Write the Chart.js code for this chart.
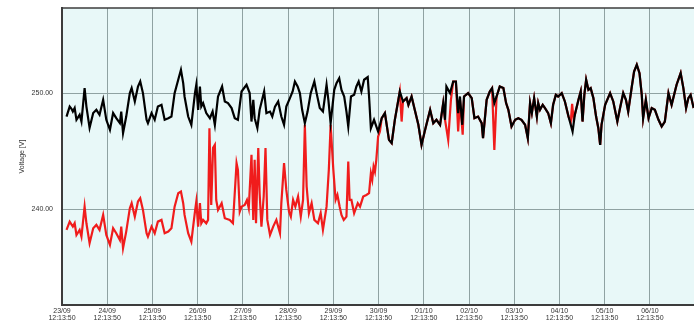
<!DOCTYPE html>
<html>
<head>
<meta charset="utf-8">
<title>Voltage</title>
<script src="https://cdn.jsdelivr.net/npm/chart.js@4/dist/chart.umd.min.js"></script>
<style>
  html, body { margin: 0; padding: 0; background: #ffffff; }
  #wrap { width: 694px; height: 329px; overflow: hidden; }
</style>
</head>
<body>
<div id="wrap"><canvas id="chart" width="694" height="329"></canvas></div>
<script>
// Day labels (one per grid line), each stamped at the same clock time
const dayLabels = ['23/09', '24/09', '25/09', '26/09', '27/09', '28/09', '29/09',
                   '30/09', '01/10', '02/10', '03/10', '04/10', '05/10', '06/10'];
const clockLabel = '12:13:50';
const voltTicks = [240, 250];

// Phase voltage readings: time in days since 23/09 12:13:50, value in volts
const timeBlack = [0.10,0.17,0.21,0.24,0.28,0.32,0.39,0.43,0.50,0.54,0.61,0.69,0.76,0.83,0.91,0.98,
  1.06,1.13,1.20,1.28,1.31,1.35,1.42,1.50,1.54,1.61,1.68,1.73,1.79,1.87,1.90,1.98,
  2.05,2.12,2.20,2.27,2.35,2.42,2.49,2.57,2.63,2.68,2.71,2.79,2.86,2.94,2.97,
  3.01,3.05,3.08,3.12,3.19,3.27,3.33,3.38,3.45,3.54,3.60,3.67,3.75,3.82,3.89,3.97,
  4.08,4.15,4.19,4.23,4.26,4.32,4.37,4.47,4.52,4.60,4.65,4.71,4.78,4.85,4.91,4.96,
  5.04,5.10,5.15,5.21,5.26,5.31,5.37,5.43,5.50,5.58,5.63,5.70,5.77,5.85,5.89,5.94,
  6.02,6.07,6.13,6.18,6.24,6.29,6.33,6.39,6.46,6.51,6.56,6.62,6.68,6.76,6.79,6.83,6.90,6.99,
  7.07,7.14,7.23,7.29,7.36,7.47,7.54,7.62,7.66,7.73,7.80,7.88,7.95,
  8.02,8.14,8.21,8.28,8.36,8.43,8.47,8.50,8.58,8.65,8.71,8.76,8.80,8.85,8.89,8.98,
  9.06,9.12,9.20,9.28,9.31,9.39,9.46,9.51,9.56,9.61,9.68,9.76,9.82,9.87,9.94,
  10.02,10.09,10.16,10.24,10.30,10.35,10.39,10.44,10.50,10.53,10.57,10.63,10.68,10.75,10.81,10.86,10.92,10.97,
  11.05,11.12,11.20,11.25,11.29,11.34,11.42,11.47,11.51,11.55,11.59,11.64,11.69,11.75,11.81,11.86,11.90,11.93,
  12.01,12.12,12.19,12.28,12.34,12.41,12.47,12.52,12.60,12.65,12.71,12.77,12.82,12.85,12.91,12.97,
  13.04,13.11,13.19,13.26,13.33,13.41,13.48,13.59,13.68,13.74,13.80,13.85,13.90,13.96,14.04];
const voltsBlack = [247.98,248.84,248.65,248.41,248.71,247.70,248.13,247.55,250.43,248.84,247.01,248.28,248.56,248.13,249.42,247.70,
  246.84,248.28,247.84,247.41,248.41,246.55,247.98,250.00,250.43,249.28,250.57,251.00,250.00,247.70,247.41,248.28,
  247.70,248.84,248.99,247.70,247.84,247.98,250.00,251.15,252.01,250.86,249.71,247.98,247.27,250.00,250.72,
  248.56,250.57,248.84,249.14,248.28,247.84,248.41,247.27,249.71,250.57,249.28,249.14,248.71,247.84,247.70,250.14,
  250.72,250.00,247.55,249.42,247.84,246.98,248.56,250.14,248.28,248.41,247.98,248.84,249.28,247.98,247.27,248.84,
  249.57,250.14,251.00,250.57,250.00,248.56,247.41,248.41,250.00,251.00,250.00,248.71,248.41,250.72,249.42,247.41,
  250.28,250.86,251.29,250.28,249.71,248.41,247.12,249.71,249.85,250.57,251.00,250.14,251.15,251.38,249.71,246.98,247.70,246.69,
  247.84,248.28,245.97,245.69,247.70,250.14,249.28,249.57,248.99,249.71,248.56,247.27,245.54,
  246.69,248.56,247.41,247.70,247.27,249.14,247.70,250.57,250.00,251.00,251.00,248.28,249.71,247.27,249.71,250.00,
  249.57,247.84,247.98,247.41,246.12,249.42,250.14,250.43,249.14,249.71,250.57,250.43,249.14,248.56,247.12,
  247.70,247.84,247.70,247.27,246.12,249.14,248.28,249.57,247.98,249.14,248.56,248.99,248.71,248.28,247.41,248.99,249.85,249.71,
  250.00,249.28,247.98,247.27,246.69,248.13,249.42,250.14,247.55,249.85,251.15,250.28,250.43,249.57,247.98,246.98,245.54,247.27,
  248.99,250.00,249.28,247.55,248.71,250.00,249.42,248.41,250.57,251.86,252.44,251.72,249.85,247.84,249.42,247.84,
  248.71,248.56,247.70,247.12,247.55,250.00,248.99,250.72,251.72,250.43,248.71,249.57,249.85,248.84,249.08];

const timeRed = [0.10,0.17,0.24,0.28,0.32,0.39,0.43,0.50,0.54,0.61,0.69,0.76,0.83,0.91,0.98,
  1.06,1.13,1.20,1.28,1.31,1.35,1.42,1.50,1.54,1.61,1.68,1.73,1.79,1.87,1.90,1.98,
  2.05,2.12,2.20,2.27,2.35,2.42,2.49,2.57,2.63,2.68,2.71,2.79,2.86,2.94,2.97,
  3.01,3.05,3.08,3.12,3.19,3.23,3.26,3.30,3.34,3.38,3.41,3.45,3.53,3.60,3.71,3.78,3.86,3.89,3.93,3.97,
  4.04,4.09,4.13,4.19,4.23,4.26,4.29,4.34,4.37,4.41,4.46,4.50,4.54,4.60,4.67,4.74,4.82,4.85,4.91,4.96,
  5.02,5.06,5.11,5.16,5.22,5.28,5.33,5.37,5.41,5.46,5.52,5.58,5.66,5.72,5.77,5.85,5.90,5.94,
  6.00,6.05,6.09,6.14,6.18,6.23,6.29,6.33,6.36,6.40,6.46,6.54,6.59,6.66,6.73,6.79,6.83,6.86,6.89,6.92,6.95,6.99,
  7.03,7.07,7.14,7.23,7.29,7.36,7.47,7.51,7.54,7.62,7.66,7.73,7.80,7.88,7.95,
  8.02,8.14,8.21,8.28,8.36,8.43,8.47,8.54,8.60,8.65,8.71,8.76,8.80,8.86,8.89,8.98,
  9.06,9.12,9.20,9.28,9.31,9.39,9.46,9.51,9.56,9.61,9.68,9.76,9.82,9.87,9.94,
  10.02,10.09,10.16,10.24,10.30,10.35,10.39,10.44,10.50,10.53,10.57,10.63,10.68,10.75,10.81,10.86,10.92,10.97,
  11.05,11.12,11.20,11.25,11.28,11.31,11.34,11.42,11.47,11.51,11.55,11.59,11.64,11.69,11.75,11.81,11.86,11.90,11.93,
  12.01,12.12,12.19,12.28,12.34,12.41,12.47,12.52,12.60,12.65,12.71,12.77,12.82,12.85,12.91,12.97,
  13.04,13.11,13.19,13.26,13.33,13.41,13.48,13.59,13.68,13.74,13.80,13.85,13.90,13.96,14.04];
const voltsRed = [238.22,238.93,238.50,238.79,237.78,238.22,237.64,240.22,238.79,237.07,238.36,238.65,238.22,239.51,237.78,
  236.92,238.36,237.93,237.35,238.50,236.64,238.07,240.09,240.52,239.36,240.66,240.95,239.94,237.93,237.64,238.50,
  237.93,238.93,239.08,237.93,238.07,238.36,240.22,241.38,241.52,240.52,239.51,237.93,237.21,239.79,240.66,
  238.50,240.52,238.79,239.08,238.79,239.08,246.98,240.37,245.28,245.54,240.80,239.94,240.52,239.22,239.08,238.79,243.97,243.39,239.79,240.22,
  240.37,240.80,240.09,244.68,239.08,244.25,238.79,245.26,241.38,238.50,241.09,245.26,239.08,237.78,238.50,239.08,237.93,240.52,243.97,241.66,
  239.79,239.36,240.80,240.22,241.09,239.36,240.80,247.27,241.95,239.66,240.52,239.08,238.79,239.66,238.22,240.22,243.39,247.27,
  243.39,240.80,241.23,240.22,239.51,239.08,239.36,244.10,240.80,240.80,239.66,240.52,240.22,241.09,241.23,241.38,243.10,242.53,243.67,243.24,244.25,246.26,
  246.69,247.84,248.28,245.97,245.69,247.70,250.14,247.55,249.28,249.57,248.99,249.71,248.56,247.27,245.54,
  246.69,248.56,247.41,247.70,247.27,249.14,247.70,245.97,249.42,251.00,251.00,246.69,249.42,246.41,249.71,250.00,
  249.57,247.84,247.98,247.41,246.12,249.42,250.14,250.43,245.11,249.71,250.57,250.43,249.14,248.56,247.12,
  247.70,247.84,247.70,247.27,246.12,249.14,248.28,249.57,247.98,249.14,248.56,248.99,248.71,248.28,247.41,248.99,249.85,249.71,
  250.00,249.28,247.98,247.53,249.08,247.87,248.13,249.42,250.14,247.55,249.85,251.15,250.28,250.43,249.57,247.98,246.98,245.54,247.27,
  248.99,250.00,249.28,247.55,248.71,250.00,249.42,248.41,250.57,251.86,252.44,251.72,249.85,247.84,249.42,247.84,
  248.71,248.56,247.70,247.12,247.55,250.00,248.99,250.72,251.72,250.43,248.71,249.57,249.85,248.84,249.08];

const toPoints = (t, v) => t.map((x, i) => ({ x: x, y: v[i] }));

// Pale plot background and the top edge of the frame
const plotFrame = {
  id: 'plotFrame',
  beforeDraw(chart) {
    const { ctx, chartArea: a } = chart;
    ctx.save();
    ctx.fillStyle = '#e8f8f8';
    ctx.fillRect(a.left, a.top, a.right - a.left, a.bottom - a.top);
    ctx.restore();
  },
  afterDraw(chart) {
    const { ctx, chartArea: a } = chart;
    ctx.save();
    ctx.strokeStyle = '#3c3c3c';
    ctx.lineWidth = 1.5;
    ctx.beginPath();
    ctx.moveTo(a.left, a.top);
    ctx.lineTo(a.right, a.top);
    ctx.stroke();
    ctx.restore();
  }
};

const tickFont = { family: 'Liberation Sans, Arial, sans-serif', size: 7, lineHeight: 1 };

new Chart(document.getElementById('chart'), {
  type: 'line',
  data: {
    datasets: [
      {
        label: 'L1',
        data: toPoints(timeBlack, voltsBlack),
        borderColor: '#000000',
        borderWidth: 2.2,
        pointRadius: 0,
        tension: 0,
        order: 0
      },
      {
        label: 'L2',
        data: toPoints(timeRed, voltsRed),
        borderColor: '#f01c1c',
        borderWidth: 2.2,
        pointRadius: 0,
        tension: 0,
        order: 1
      }
    ]
  },
  options: {
    responsive: false,
    animation: false,
    events: [],
    layout: { padding: { top: 8, right: 0, bottom: 0, left: 0 } },
    plugins: { legend: { display: false }, tooltip: { enabled: false } },
    scales: {
      x: {
        type: 'linear',
        min: 0,
        max: 13.975,
        afterBuildTicks: s => { s.ticks = dayLabels.map((_, i) => ({ value: i })); },
        afterFit: s => { s.height = 24; s.paddingLeft = 0; s.paddingRight = 0; },
        grid: { color: '#8fa2a2', lineWidth: 1, drawTicks: false },
        border: { color: '#3c3c3c', width: 2 },
        ticks: {
          padding: 3,
          maxRotation: 0,
          autoSkip: false,
          color: '#333333',
          font: tickFont,
          callback: v => [dayLabels[Math.round(v)], clockLabel]
        }
      },
      y: {
        min: 231.75,
        max: 257.33,
        afterBuildTicks: s => { s.ticks = voltTicks.map(v => ({ value: v })); },
        afterFit: s => { s.width = 62; s.paddingTop = 0; s.paddingBottom = 0; },
        grid: { color: '#8fa2a2', lineWidth: 1, drawTicks: false },
        border: { color: '#3c3c3c', width: 2 },
        ticks: {
          padding: 9,
          color: '#333333',
          font: tickFont,
          callback: v => v.toFixed(2)
        },
        title: {
          display: true,
          text: 'Voltage [V]',
          color: '#333333',
          font: tickFont,
          padding: { top: 19, bottom: 0 }
        }
      }
    }
  },
  plugins: [plotFrame]
});
</script>
</body>
</html>
